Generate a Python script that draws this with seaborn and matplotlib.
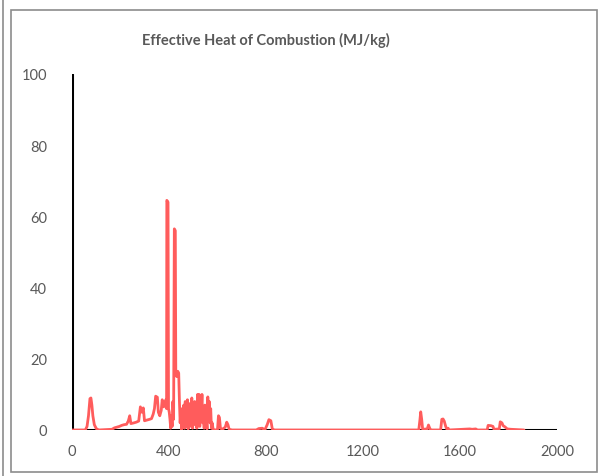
import numpy as np
import pandas as pd
import seaborn as sns
import matplotlib.pyplot as plt
from matplotlib.lines import Line2D
from matplotlib.patches import Rectangle

# red series: effective heat of combustion vs time (s)
timeS = [0, 20, 40, 55, 62, 68, 74, 78, 82, 86, 92, 100, 110, 140, 165, 175, 185, 195, 205, 215,
         225, 232, 238, 243, 255, 265, 275, 282, 288, 294, 299, 310, 320, 328, 335, 340, 345, 352,
         356, 362, 368, 372, 378, 383, 388, 390, 391, 396, 398, 401, 404, 407, 410, 413, 416, 419,
         422, 426, 428, 432, 436, 440, 443, 446, 449, 452, 455, 458, 461, 464, 467, 470, 473, 476,
         479, 482, 485, 488, 491, 494, 497, 500, 503, 506, 509, 512, 515, 518, 521, 524, 527, 530,
         533, 536, 539, 542, 545, 548, 551, 554, 557, 560, 563, 566, 569, 572, 575, 578, 582, 590,
         600, 604, 608, 612, 620, 632, 638, 643, 648, 660, 700, 760, 770, 785, 795, 805, 812, 820,
         826, 835, 1000, 1200, 1430, 1435, 1438, 1442, 1446, 1465, 1470, 1475, 1480, 1520, 1525,
         1530, 1535, 1541, 1546, 1551, 1555, 1640, 1650, 1665, 1672, 1712, 1716, 1728, 1736, 1740,
         1762, 1766, 1773, 1778, 1785, 1795, 1810, 1864]
ehc = [0, 0, 0, 0, 1, 4, 8.8, 9, 7, 4, 1.5, 0.4, 0, 0.1, 0.2, 0.6, 0.8, 1.0, 1.3, 1.5,
       1.6, 2.5, 4, 1.8, 2, 2.2, 2.5, 6.5, 5, 6.2, 2.6, 2.8, 3, 3.2, 4.5, 6, 9.5, 9.2,
       5, 4, 5.5, 8.5, 6.5, 7.5, 8.6, 6, 64.5, 64, 6, 5, 3, 0.5, 4, 1, 8, 3,
       56.5, 56, 16, 15, 16.5, 16, 8, 2, 6, 0, 4, 2, 7, 0.5, 8, 1, 3, 8.5,
       0.3, 5, 2, 7.5, 1, 9, 0.5, 4, 1.5, 8, 2, 6, 0.5, 10, 3, 10, 1, 9.5,
       5, 10, 2, 4, 0.5, 7, 1, 3, 0.3, 9.3, 4, 8, 2, 6, 0.5, 2, 0.2, 0,
       0.1, 4, 3.5, 0.5, 0.2, 0.8, 2.2, 1.5, 0.2, 0, 0, 0, 0.4, 0.5, 0, 1.5, 2.9, 2.6,
       0.3, 0, 0, 0, 0, 3, 5.1, 3, 0.2, 0.3, 1.4, 0.5, 0, 0, 3,
       3.1, 2.5, 1, 0.2, 0.5, 0, 0.3, 0.2, 0.3, 0, 0, 1.3, 1.2, 1.0, 0.2,
       0.3, 2.3, 2.0, 1.2, 0.9, 0.3, 0.2, 0]

# black series (frame of reference line)
blackX = [0, 0, 2000]
blackY = [100, 0, 0]

xTicks = [0, 400, 800, 1200, 1600, 2000]
yTicks = [0, 20, 40, 60, 80, 100]

redData = pd.DataFrame({'time': timeS, 'ehc': ehc})
blackData = pd.DataFrame({'time': blackX, 'ehc': blackY})

sns.set_style("white")
plt.rcParams['font.family'] = ['Lato', 'DejaVu Sans']

fig = plt.figure(figsize=(5.99, 4.77), dpi=100)
ax = fig.add_axes([72/599, 46/477, 485/599, 356/477])

sns.lineplot(x='time', y='ehc', data=blackData, ax=ax, color='black', linewidth=2.2,
             estimator=None, sort=False)
sns.lineplot(x='time', y='ehc', data=redData, ax=ax, color='#ff5c5c', linewidth=2.0,
             estimator=None, sort=False)

ax.set_xlim(0, 2000)
ax.set_ylim(0, 100)
ax.set_xticks(xTicks)
ax.set_yticks(yTicks)
ax.tick_params(axis='both', length=0, labelsize=10.5, labelcolor='#595959')
ax.tick_params(axis='x', pad=10)
ax.tick_params(axis='y', pad=18)
ax.set_xlabel('')
ax.set_ylabel('')
for side in ['top', 'right', 'bottom', 'left']:
    ax.spines[side].set_visible(False)

fig.text(266/599, 1 - 40/477, 'Effective Heat of Combustion (MJ/kg)', ha='center', va='center',
         fontsize=10.5, fontweight='bold', color='#595959')

# chart frame lines
fig.add_artist(Line2D([3/599, 3/599], [0, 1], color='#8c8c8c', linewidth=1.2))
fig.add_artist(Rectangle((11/599, 4/477), 586/599, 462/477, fill=False,
                         edgecolor='#8c8c8c', linewidth=1.2))

fig.savefig('out.png', dpi=100)
